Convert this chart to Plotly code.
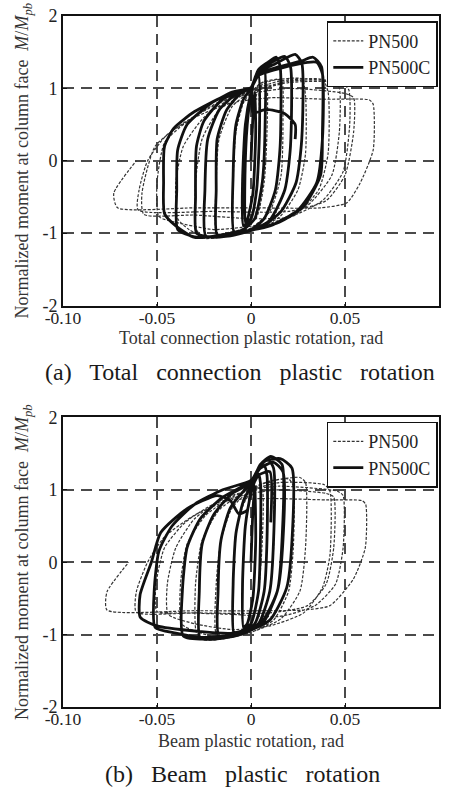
import plotly.graph_objects as go

# ---------------- axis ticks ----------------
X_TICKS = [-0.10, -0.05, 0.0, 0.05, 0.10]
X_TICKTEXT = ["-0.10", "-0.05", "0", "0.05", "0.10"]
Y_TICKS = [-2, -1, 0, 1, 2]
Y_TICKTEXT = ["-2", "-1", "0", "1", "2"]

SERIES_NAMES = ["PN500", "PN500C"]
X_TITLES = ["Total connection plastic rotation, rad", "Beam plastic rotation, rad"]
CAPTIONS = ["(a)&nbsp;&nbsp; Total&nbsp;&nbsp; connection&nbsp;&nbsp; plastic&nbsp;&nbsp; rotation",
            "(b)&nbsp;&nbsp; Beam&nbsp;&nbsp; plastic&nbsp;&nbsp; rotation"]

# ---------------- (a) total connection plastic rotation ----------------
A_PN500 = [
    (0.000, 0.00), (0.002, 0.80), (0.004, 1.00), (0.0045, 0.30), (0.003, -0.40), (0.000, -0.80),
    (-0.004, -0.88), (-0.0045, -0.20), (-0.003, 0.50), (0.000, 0.90),
    (0.004, 1.05), (0.008, 1.10), (0.0085, 0.40), (0.007, -0.30), (0.003, -0.78), (-0.004, -0.93),
    (-0.009, -0.97), (-0.0095, -0.30), (-0.008, 0.40), (-0.004, 0.80), (0.000, 0.95),
    (0.006, 1.08), (0.016, 1.12), (0.017, 0.60), (0.016, -0.20), (0.010, -0.70), (0.000, -0.93),
    (-0.010, -1.02), (-0.018, -1.03), (-0.0185, -0.30), (-0.017, 0.30), (-0.010, 0.75), (0.000, 0.96),
    (0.010, 1.10), (0.027, 1.13), (0.029, 0.90), (0.029, 0.10), (0.025, -0.40), (0.015, -0.78),
    (0.000, -0.95), (-0.015, -1.05), (-0.025, -1.07), (-0.029, -0.95), (-0.0295, -0.30),
    (-0.026, 0.30), (-0.017, 0.70), (-0.005, 0.90), (0.000, 0.97),
    (0.015, 1.10), (0.038, 1.12), (0.041, 0.95), (0.041, 0.10), (0.036, -0.40), (0.024, -0.74),
    (0.008, -0.90), (-0.010, -0.98), (-0.025, -1.05), (-0.033, -0.95), (-0.039, -0.80),
    (-0.040, -0.30), (-0.036, 0.20), (-0.025, 0.60), (-0.010, 0.87), (0.000, 0.96),
    (0.020, 1.10), (0.044, 1.10), (0.047, 1.00), (0.047, 0.40), (0.043, -0.20), (0.030, -0.62),
    (0.012, -0.85), (-0.005, -0.92), (-0.020, -0.95), (-0.040, -0.85), (-0.049, -0.77),
    (-0.050, -0.30), (-0.046, 0.25), (-0.035, 0.52), (-0.018, 0.80), (0.000, 0.95),
    (0.020, 1.08), (0.048, 1.08), (0.052, 0.98), (0.0525, 0.50), (0.049, -0.15), (0.038, -0.55),
    (0.020, -0.78), (0.000, -0.80), (-0.030, -0.75), (-0.057, -0.74), (-0.058, -0.45),
    (-0.051, 0.20), (-0.036, 0.52), (-0.015, 0.82), (0.000, 0.93),
    (0.020, 1.00), (0.050, 0.93), (0.0546, 0.87), (0.0546, 0.40), (0.050, -0.20), (0.040, -0.55),
    (0.020, -0.70), (-0.020, -0.70), (-0.060, -0.68), (-0.0595, -0.40), (-0.055, 0.00),
    (-0.045, 0.35), (-0.030, 0.60), (-0.010, 0.80), (0.010, 0.87),
    (0.040, 0.85), (0.063, 0.84), (0.065, 0.78), (0.065, 0.15), (0.058, -0.31), (0.051, -0.58),
    (0.037, -0.65), (0.000, -0.65), (-0.030, -0.65), (-0.071, -0.65), (-0.073, -0.45), (-0.061, 0.00),
]

A_PN500C = [
    (0.000, 0.00), (0.001, 0.60), (0.002, 0.95), (0.0025, 0.40), (0.001, -0.45), (-0.002, -0.82),
    (-0.003, -0.86), (-0.0032, -0.20), (-0.002, 0.50), (0.000, 0.92),
    (0.002, 1.12), (0.004, 1.18), (0.0045, 0.40), (0.003, -0.40), (0.000, -0.80), (-0.004, -0.90),
    (-0.0045, -0.30), (-0.003, 0.50), (0.000, 0.95),
    (0.003, 1.20), (0.007, 1.30), (0.0075, 0.50), (0.006, -0.30), (0.002, -0.80), (-0.004, -0.95),
    (-0.009, -0.98), (-0.0095, -0.20), (-0.008, 0.50), (-0.004, 0.85), (0.000, 1.00),
    (0.004, 1.26), (0.009, 1.36), (0.0135, 1.43), (0.0155, 1.30), (0.0155, 0.20), (0.013, -0.40),
    (0.007, -0.80), (0.000, -0.95), (-0.010, -1.02), (-0.018, -1.02), (-0.0185, -0.40),
    (-0.018, 0.30), (-0.013, 0.70), (-0.006, 0.92), (0.000, 1.01),
    (0.004, 1.24), (0.011, 1.36), (0.018, 1.44), (0.021, 1.30), (0.021, 0.20), (0.018, -0.40),
    (0.010, -0.82), (0.000, -0.96), (-0.012, -1.04), (-0.024, -1.04), (-0.0245, -0.40),
    (-0.023, 0.30), (-0.017, 0.70), (-0.008, 0.92), (0.000, 1.01),
    (0.004, 1.22), (0.013, 1.34), (0.0235, 1.47), (0.027, 1.35), (0.027, 0.30), (0.024, -0.30),
    (0.016, -0.70), (0.005, -0.92), (-0.010, -1.03), (-0.022, -1.05), (-0.029, -1.00),
    (-0.0295, -0.50), (-0.029, 0.20), (-0.025, 0.55), (-0.015, 0.85), (0.000, 1.01),
    (0.004, 1.20), (0.015, 1.30), (0.027, 1.38), (0.033, 1.43), (0.0375, 1.30), (0.038, 0.40),
    (0.037, -0.20), (0.028, -0.63), (0.015, -0.85), (0.001, -0.95), (-0.015, -1.04),
    (-0.030, -1.05), (-0.039, -0.95), (-0.0395, -0.40), (-0.039, 0.15), (-0.034, 0.50),
    (-0.022, 0.78), (-0.010, 0.95), (0.000, 1.01),
    (0.004, 1.18), (0.016, 1.28), (0.030, 1.36), (0.035, 1.36), (0.038, 1.20), (0.038, 0.30),
    (0.035, -0.30), (0.025, -0.68), (0.010, -0.90), (-0.010, -1.00), (-0.030, -1.06),
    (-0.040, -0.90), (-0.046, -0.73), (-0.0465, -0.30), (-0.046, 0.20), (-0.041, 0.45),
    (-0.030, 0.68), (-0.015, 0.88), (0.000, 0.98),
    (0.001, 0.66), (0.008, 0.71), (0.018, 0.65), (0.0235, 0.50), (0.0235, 0.30),
]

# ---------------- (b) beam plastic rotation ----------------
B_PN500 = [
    (0.000, 0.00), (0.001, 0.70), (0.002, 0.95), (0.0025, 0.30), (0.001, -0.50), (-0.002, -0.85),
    (-0.004, -0.88), (-0.0045, -0.30), (-0.003, 0.50), (0.000, 0.90),
    (0.004, 1.02), (0.006, 1.00), (0.006, 0.30), (0.004, -0.40), (0.000, -0.85), (-0.005, -0.95),
    (-0.009, -0.96), (-0.0095, -0.30), (-0.008, 0.40), (-0.004, 0.80), (0.000, 0.97),
    (0.006, 1.08), (0.011, 1.10), (0.012, 0.90), (0.012, 0.20), (0.010, -0.40), (0.004, -0.85),
    (-0.006, -1.00), (-0.018, -1.03), (-0.0185, -0.30), (-0.016, 0.30), (-0.010, 0.75), (0.000, 1.00),
    (0.008, 1.10), (0.020, 1.15), (0.0225, 1.05), (0.0225, 0.20), (0.020, -0.40), (0.012, -0.80),
    (0.000, -0.97), (-0.015, -1.06), (-0.025, -1.07), (-0.029, -0.98), (-0.0295, -0.30),
    (-0.026, 0.30), (-0.017, 0.72), (-0.006, 0.93), (0.000, 1.02),
    (0.010, 1.12), (0.026, 1.17), (0.029, 1.10), (0.029, 0.20), (0.026, -0.40), (0.016, -0.78),
    (0.002, -0.95), (-0.015, -1.05), (-0.030, -0.95), (-0.037, -0.85), (-0.0375, -0.30),
    (-0.034, 0.25), (-0.024, 0.65), (-0.010, 0.90), (0.000, 1.00),
    (0.015, 1.10), (0.039, 1.07), (0.042, 0.98), (0.042, 0.10), (0.038, -0.35), (0.028, -0.70),
    (0.010, -0.88), (-0.010, -0.93), (-0.030, -0.85), (-0.044, -0.72), (-0.0445, -0.30),
    (-0.040, 0.20), (-0.030, 0.60), (-0.015, 0.87), (0.000, 1.00),
    (0.015, 1.05), (0.046, 0.98), (0.049, 0.92), (0.049, 0.20), (0.045, -0.30), (0.034, -0.60),
    (0.015, -0.75), (-0.010, -0.72), (-0.035, -0.70), (-0.050, -0.68), (-0.0505, -0.30),
    (-0.046, 0.20), (-0.035, 0.55), (-0.020, 0.80), (0.000, 0.95),
    (0.015, 1.00), (0.040, 0.95), (0.044, 0.90), (0.044, 0.20), (0.040, -0.30), (0.030, -0.60),
    (0.010, -0.70), (-0.030, -0.70), (-0.061, -0.69), (-0.061, -0.41), (-0.055, 0.00),
    (-0.046, 0.35), (-0.030, 0.65), (-0.012, 0.85), (0.010, 0.88),
    (0.040, 0.86), (0.059, 0.85), (0.061, 0.80), (0.0608, 0.20), (0.0545, -0.23), (0.042, -0.60),
    (0.028, -0.66), (0.010, -0.67), (-0.030, -0.67), (-0.0766, -0.66), (-0.0766, -0.41), (-0.065, 0.00),
]

B_PN500C = [
    (0.000, 0.00), (0.001, 0.70), (0.002, 1.05), (0.0025, 0.30), (0.001, -0.50), (-0.002, -0.85),
    (-0.004, -0.90), (-0.0045, -0.30), (-0.003, 0.50), (0.000, 0.95),
    (0.002, 1.12), (0.004, 1.22), (0.005, 1.10), (0.005, 0.30), (0.004, -0.40), (0.000, -0.85),
    (-0.005, -0.95), (-0.009, -0.98), (-0.0095, -0.30), (-0.008, 0.40), (-0.004, 0.85), (0.000, 1.05),
    (0.003, 1.25), (0.007, 1.33), (0.0085, 1.20), (0.0085, 0.30), (0.007, -0.40), (0.002, -0.85),
    (-0.006, -0.98), (-0.017, -1.02), (-0.0175, -0.40), (-0.016, 0.30), (-0.011, 0.75),
    (-0.004, 0.98), (0.000, 1.08),
    (0.004, 1.30), (0.009, 1.42), (0.012, 1.30), (0.012, 0.30), (0.010, -0.40), (0.004, -0.85),
    (-0.006, -1.00), (-0.018, -1.06), (-0.027, -1.05), (-0.0275, -0.40), (-0.026, 0.25),
    (-0.020, 0.65), (-0.010, 0.95), (0.000, 1.10),
    (0.005, 1.35), (0.0105, 1.46), (0.0165, 1.35), (0.0165, 0.30), (0.014, -0.40), (0.006, -0.85),
    (-0.006, -1.00), (-0.020, -1.06), (-0.036, -1.02), (-0.0365, -0.40), (-0.034, 0.20),
    (-0.027, 0.60), (-0.015, 0.90), (0.000, 1.12),
    (0.006, 1.38), (0.0155, 1.43), (0.0218, 1.30), (0.0218, 0.30), (0.019, -0.35), (0.010, -0.80),
    (-0.005, -0.98), (-0.025, -1.04), (-0.040, -0.98), (-0.051, -0.90), (-0.0515, -0.40),
    (-0.049, 0.15), (-0.042, 0.50), (-0.030, 0.80), (-0.015, 1.00), (0.000, 1.13),
    (0.005, 1.30), (0.012, 1.38), (0.017, 1.25), (0.017, 0.30), (0.014, -0.40), (0.005, -0.85),
    (-0.010, -0.98), (-0.030, -0.95), (-0.050, -0.88), (-0.0589, -0.76), (-0.059, -0.45),
    (-0.053, 0.00), (-0.048, 0.41), (-0.034, 0.74), (-0.018, 0.92), (-0.011, 0.85),
    (-0.0065, 0.67), (-0.002, 0.72), (0.000, 1.00),
    (0.004, 1.20), (0.010, 1.25), (0.0105, 0.55),
]

PANELS = [(A_PN500, A_PN500C), (B_PN500, B_PN500C)]

FONT = "Liberation Serif"
TXT = "#222222"

fig = go.Figure()
for i, (dashed, solid) in enumerate(PANELS):
    ax = "" if i == 0 else str(i + 1)
    leg = "legend" if i == 0 else "legend2"
    fig.add_trace(go.Scatter(
        x=[p[0] for p in dashed], y=[p[1] for p in dashed],
        mode="lines", name=SERIES_NAMES[0], legend=leg,
        xaxis="x" + ax, yaxis="y" + ax,
        line=dict(color="#333333", width=1.2, dash="3px,1.6px", shape="spline", smoothing=0.6),
    ))
    fig.add_trace(go.Scatter(
        x=[p[0] for p in solid], y=[p[1] for p in solid],
        mode="lines", name=SERIES_NAMES[1], legend=leg,
        xaxis="x" + ax, yaxis="y" + ax,
        line=dict(color="#111111", width=2.8, shape="spline", smoothing=0.6),
    ))

common_x = dict(
    range=[-0.1, 0.1], tickvals=X_TICKS, ticktext=X_TICKTEXT,
    showgrid=True, gridcolor="#4a4a4a", gridwidth=1.5, griddash="11px,7px",
    zeroline=False, showline=True, linecolor="#111111", linewidth=2, mirror=True,
    ticks="inside", ticklen=4, tickcolor="#111111", ticklabelstandoff=-5,
    tickfont=dict(family=FONT, size=17.5, color=TXT), automargin=False,
)
common_y = dict(
    range=[-2, 2], tickvals=Y_TICKS, ticktext=Y_TICKTEXT,
    showgrid=True, gridcolor="#4a4a4a", gridwidth=1.5, griddash="11px,7px",
    zeroline=False, showline=True, linecolor="#111111", linewidth=2, mirror=True,
    ticks="inside", ticklen=4, tickcolor="#111111",
    tickfont=dict(family=FONT, size=18, color=TXT), automargin=False,
)
YTITLE = "Normalized moment at column face&nbsp;&nbsp;<i>M</i>/<i>M</i><sub><i>pb</i></sub>"
TITLE_FONT = dict(family=FONT, size=18, color="#333333")

fig.update_layout(
    width=449, height=795,
    margin=dict(l=62.5, r=9.5, t=15.5, b=87.5),
    paper_bgcolor="white", plot_bgcolor="white",
    font=dict(family=FONT, color=TXT),
    xaxis=dict(common_x, anchor="y", domain=[0, 1]),
    yaxis=dict(common_y, anchor="x", domain=[0.581, 1],
               title=dict(text=YTITLE, font=TITLE_FONT, standoff=9)),
    xaxis2=dict(common_x, anchor="y2", domain=[0, 1]),
    yaxis2=dict(common_y, anchor="x2", domain=[0, 0.4191],
                title=dict(text=YTITLE, font=TITLE_FONT, standoff=9)),
    legend=dict(x=0.9968, xanchor="right", y=0.9925, yanchor="top",
                bordercolor="#111111", borderwidth=1.5, bgcolor="white",
                font=dict(family=FONT, size=18, color=TXT), itemwidth=30, tracegroupgap=0),
    legend2=dict(x=0.9968, xanchor="right", y=0.413, yanchor="top",
                 bordercolor="#111111", borderwidth=1.5, bgcolor="white",
                 font=dict(family=FONT, size=18, color=TXT), itemwidth=30, tracegroupgap=0),
    annotations=[
        dict(text=X_TITLES[0], xref="paper", yref="paper", x=0.5, y=0.5339,
             xanchor="center", yanchor="middle", showarrow=False, font=TITLE_FONT),
        dict(text=X_TITLES[1], xref="paper", yref="paper", x=0.5, y=-0.0491,
             xanchor="center", yanchor="middle", showarrow=False, font=TITLE_FONT),
        dict(text=CAPTIONS[0], xref="paper", yref="paper", x=0.472, y=0.4848,
             xanchor="center", yanchor="middle", showarrow=False,
             font=dict(family=FONT, size=24, color="#1a1a1a")),
        dict(text=CAPTIONS[1], xref="paper", yref="paper", x=0.478, y=-0.0975,
             xanchor="center", yanchor="middle", showarrow=False,
             font=dict(family=FONT, size=24, color="#1a1a1a")),
    ],
)

fig.write_html("out.html")
